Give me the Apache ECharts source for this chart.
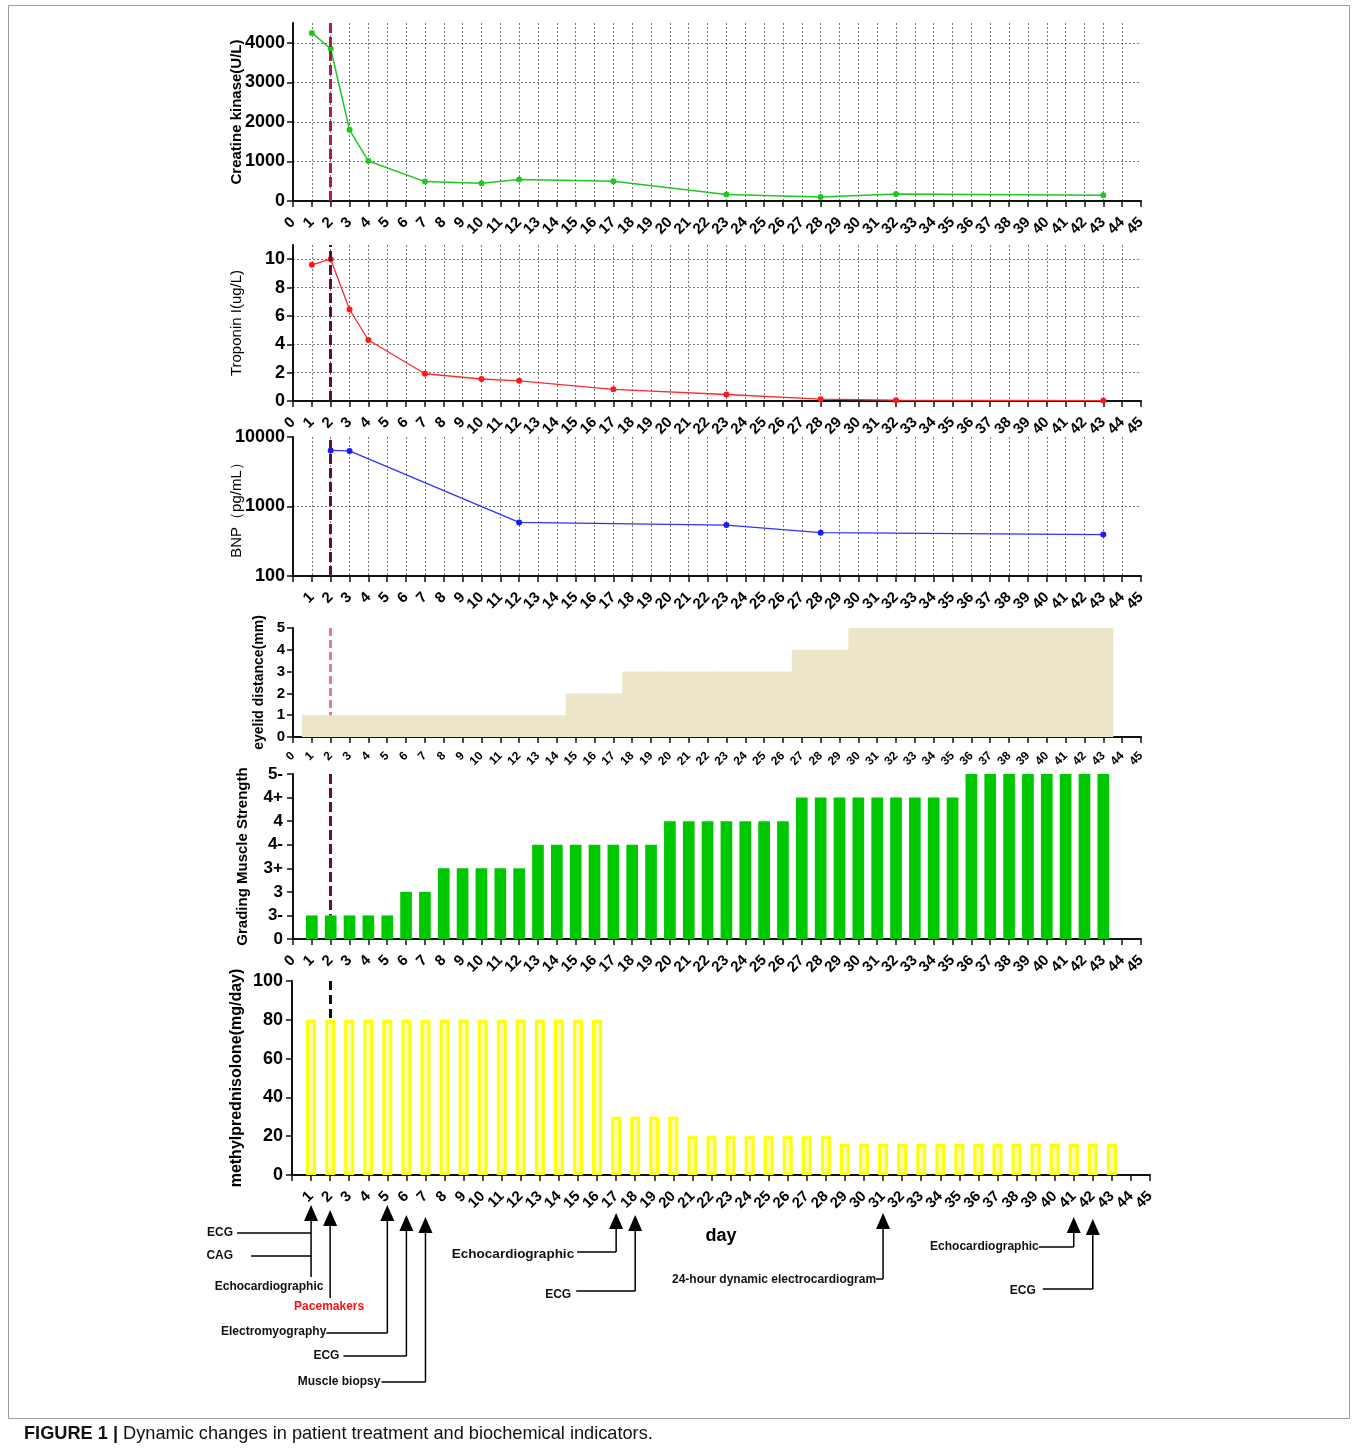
<!DOCTYPE html>
<html><head><meta charset="utf-8">
<script src="https://cdn.jsdelivr.net/npm/echarts@6/dist/echarts.min.js"></script>
<style>html,body{margin:0;padding:0;background:#fff}#c{width:1356px;height:1452px}</style>
</head><body><div id="c"></div>
<script>
// ---------------- DATA ----------------
const pacemakerDay = 2;
const ckDays   = [1, 2, 3, 4, 7, 10, 12, 17, 23, 28, 32, 43];
const ckValues = [4250, 3850, 1800, 1010, 490, 450, 545, 500, 165, 100, 180, 145];
const tnDays   = [1, 2, 3, 4, 7, 10, 12, 17, 23, 28, 32, 43];
const tnValues = [9.6, 10.0, 6.45, 4.3, 1.92, 1.55, 1.42, 0.82, 0.46, 0.13, 0.06, 0.03];
const bnpDays   = [2, 3, 12, 23, 28, 43];
const bnpValues = [6400, 6300, 590, 540, 420, 395];
const treatDays = [1,2,3,4,5,6,7,8,9,10,11,12,13,14,15,16,17,18,19,20,21,22,23,24,25,26,27,28,29,30,31,32,33,34,35,36,37,38,39,40,41,42,43];
const eyelidValues = [1,1,1,1,1,1,1,1,1,1,1,1,1,1, 2,2,2, 3,3,3,3,3,3,3,3,3, 4,4,4, 5,5,5,5,5,5,5,5,5,5,5,5,5,5];
const strengthLevels = ['0', '3-', '3', '3+', '4-', '4', '4+', '5-'];
const strengthGrades = ['3-','3-','3-','3-','3-', '3','3', '3+','3+','3+','3+','3+',
  '4-','4-','4-','4-','4-','4-','4-', '4','4','4','4','4','4','4',
  '4+','4+','4+','4+','4+','4+','4+','4+','4+', '5-','5-','5-','5-','5-','5-','5-','5-'];
const steroidDoses = [80,80,80,80,80,80,80,80,80,80,80,80,80,80,80,80, 30,30,30,30, 20,20,20,20,20,20,20,20,
  16,16,16,16,16,16,16,16,16,16,16,16,16,16,16];
const xTickLabels = ['0','1','2','3','4','5','6','7','8','9','10','11','12','13','14','15','16','17','18','19','20','21','22',
  '23','24','25','26','27','28','29','30','31','32','33','34','35','36','37','38','39','40','41','42','43','44','45'];
const ckTicks = [0, 1000, 2000, 3000, 4000];
const tnTicks = [0, 2, 4, 6, 8, 10];
const eventDays = [1, 2, 5, 6, 7, 17, 18, 31, 41, 42];
const eventLabels = [['ECG', 'CAG', 'Echocardiographic'], ['Pacemakers'], ['Electromyography'], ['ECG'],
  ['Muscle biopsy'], ['Echocardiographic'], ['ECG'], ['24-hour dynamic electrocardiogram'], ['Echocardiographic'], ['ECG']];
const yTitles = ['Creatine kinase(U/L)', 'Troponin I(ug/L)', 'BNP（pg/mL）', 'eyelid distance(mm)', 'Grading Muscle Strength', 'methylprednisolone(mg/day)'];
const xTitle = 'day';
const caption = 'Dynamic changes in patient treatment and biochemical indicators.';

// ---------------- PRESENTATION ----------------
const FONT = '"Liberation Sans", Arial, sans-serif';
const NARROW = '"Liberation Sans Narrow", "Liberation Sans", Arial, sans-serif';
const chart = echarts.init(document.getElementById('c'), null, {renderer: 'canvas', width: 1356, height: 1452});

const grids = [
  {left: 293, top: 23,  width: 848, height: 178},
  {left: 293, top: 245, width: 848, height: 156},
  {left: 293, top: 437, width: 848, height: 139},
  {left: 293, top: 628, width: 848, height: 109},
  {left: 293, top: 774, width: 848, height: 165},
  {left: 292, top: 981, width: 858, height: 194}
].map(g => Object.assign({containLabel: false, outerBoundsMode: 'none'}, g));

const dotted = {type: [2, 2], color: '#777', width: 1};
const plain = v => String(v);
const first = xTickLabels[0];
const last = xTickLabels[xTickLabels.length - 1];

// value axis (data scale, grid lines) + category axis (ticks & labels) on each grid
function xAxes(i, o) {
  o = o || {};
  const valueAxis = {
    gridIndex: i, type: 'value', position: 'bottom', min: Number(first), max: Number(last), interval: 1,
    axisLine: {show: false}, axisTick: {show: false}, axisLabel: {show: false},
    splitLine: {show: !!o.grid, showMinLine: false, showMaxLine: false, lineStyle: dotted}
  };
  const labelAxis = {
    gridIndex: i, type: 'category', position: 'bottom', data: xTickLabels, boundaryGap: false,
    axisLine: {show: true, onZero: false, lineStyle: {color: '#111', width: 2}},
    axisTick: {show: true, interval: 0, length: 6, lineStyle: {color: '#111', width: 1.5}},
    axisLabel: {show: true, interval: 0, rotate: 45, margin: o.margin || 19, fontFamily: FONT, fontWeight: 'bold',
      fontSize: o.size || 15, color: '#000', hideOverlap: false,
      formatter: v => (o.hideZero && v === first) ? '' : v},
    splitLine: {show: false}
  };
  if (o.name) Object.assign(labelAxis, {name: o.name, nameLocation: 'middle', nameGap: 52, nameMoveOverlap: false,
    nameTextStyle: {fontFamily: FONT, fontWeight: 'bold', fontSize: 18, color: '#000'}});
  return [valueAxis, labelAxis];
}
function yAx(i, o) {
  return Object.assign({
    gridIndex: i, type: 'value',
    name: yTitles[i], nameLocation: 'middle', nameRotate: 90, nameGap: o.gap, nameMoveOverlap: false,
    nameTextStyle: {fontFamily: FONT, fontWeight: o.nameWeight || 'bold', fontSize: o.nameSize || 15, color: '#000'},
    axisLine: {show: true, onZero: false, lineStyle: {color: '#111', width: 2}},
    axisTick: {show: true, length: 6, lineStyle: {color: '#111', width: 1.5}},
    axisLabel: {show: true, margin: o.margin || 8, fontFamily: o.font || FONT, fontWeight: 'bold', fontSize: o.size || 18,
      color: '#000', showMaxLabel: o.showMax !== false, formatter: o.formatter || plain},
    splitLine: {show: !!o.grid, showMinLine: false, showMaxLine: false, lineStyle: dotted}
  }, o.extra || {});
}

function fullDash(color, dash) {
  return {silent: true, symbol: ['none', 'none'], animation: false, label: {show: false},
    lineStyle: {color: color, width: 3, type: dash || [10, 4]}, data: [{xAxis: pacemakerDay}]};
}
function partDash(color, top, bottom, dash) {
  return {silent: true, symbol: ['none', 'none'], animation: false, label: {show: false},
    lineStyle: {color: color, width: 3, type: dash || [10, 4]},
    data: [[{coord: [pacemakerDay, top]}, {coord: [pacemakerDay, bottom]}]]};
}
const dayIdx = treatDays.indexOf(pacemakerDay);

const option = {
  animation: false,
  backgroundColor: '#fff',
  grid: grids,
  xAxis: [].concat(
    xAxes(0, {grid: true}),
    xAxes(1, {grid: true}),
    xAxes(2, {grid: true, hideZero: true}),
    xAxes(3, {size: 12, margin: 17}),
    xAxes(4, {}),
    xAxes(5, {hideZero: true, name: xTitle})
  ),
  yAxis: [
    yAx(0, {gap: 49, grid: true, showMax: false, extra: {min: ckTicks[0], max: 4500, interval: ckTicks[1] - ckTicks[0]}}),
    yAx(1, {gap: 49, grid: true, showMax: false, nameWeight: 'normal', extra: {min: tnTicks[0], max: 11, interval: tnTicks[1] - tnTicks[0]}}),
    yAx(2, {gap: 49, grid: true, nameWeight: 'normal', extra: {type: 'log', logBase: 10, min: 100, max: 10000}}),
    yAx(3, {gap: 27, size: 15, font: NARROW, nameSize: 14, extra: {min: 0, max: 5, interval: 1}}),
    yAx(4, {gap: 43, size: 17, font: NARROW, margin: 10, formatter: v => strengthLevels[v] || '', extra: {min: 0, max: strengthLevels.length - 1, interval: 1}}),
    yAx(5, {gap: 47, size: 18, font: NARROW, margin: 9, nameSize: 16, extra: {min: 0, max: 100, interval: 20}})
  ],
  series: [
    {type: 'line', xAxisIndex: 0, yAxisIndex: 0, data: ckDays.map((d, i) => [d, ckValues[i]]),
      symbol: 'circle', symbolSize: 6, lineStyle: {color: '#1ec81e', width: 1.5}, itemStyle: {color: '#1ec81e'},
      markLine: fullDash('#b5175b')},
    {type: 'line', xAxisIndex: 2, yAxisIndex: 1, data: tnDays.map((d, i) => [d, tnValues[i]]),
      symbol: 'circle', symbolSize: 6, lineStyle: {color: '#ff2a2a', width: 1.3}, itemStyle: {color: '#ff1a1a'},
      markLine: fullDash('#5e0b47')},
    {type: 'line', xAxisIndex: 4, yAxisIndex: 2, data: bnpDays.map((d, i) => [d, bnpValues[i]]),
      symbol: 'circle', symbolSize: 6, lineStyle: {color: '#3030ff', width: 1.3}, itemStyle: {color: '#1a1aff'},
      markLine: fullDash('#5e0b47')},
    {type: 'bar', xAxisIndex: 6, yAxisIndex: 3, data: treatDays.map((d, i) => [d, eyelidValues[i]]),
      barWidth: '106%', itemStyle: {color: '#ede5c9'},
      markLine: partDash('#e07b9b', 5, eyelidValues[dayIdx], [8, 4])},
    {type: 'bar', xAxisIndex: 8, yAxisIndex: 4, data: treatDays.map((d, i) => [d, strengthLevels.indexOf(strengthGrades[i])]),
      barWidth: '62%', itemStyle: {color: '#00c800'},
      markLine: partDash('#660a4c', strengthLevels.length - 1, strengthLevels.indexOf(strengthGrades[dayIdx]))},
    {type: 'bar', xAxisIndex: 10, yAxisIndex: 5, data: treatDays.map((d, i) => [d, steroidDoses[i]]),
      barWidth: '52%', itemStyle: {color: '#fdfdb8', borderColor: '#ffff00', borderWidth: 3},
      markLine: partDash('#111', 100, steroidDoses[dayIdx], [9, 5])}
  ]
};
chart.setOption(option);

// ---------------- ANNOTATIONS (positions derived from the bottom axis) ----------------
const eventLayout = [
  {tip: 30, end: 102, labels: [{dy: 58, right: -78, from: -74}, {dy: 81, right: -78, from: -60}, {dy: 112, center: -42}]},
  {tip: 35, end: 123, labels: [{dy: 132, center: -1, color: '#ff1010'}]},
  {tip: 30, end: 158, labels: [{dy: 157, right: -61, from: -61, ly: 158}]},
  {tip: 40, end: 181, labels: [{dy: 181, right: -67, from: -63}]},
  {tip: 42, end: 207, labels: [{dy: 207, right: -45, from: -44}]},
  {tip: 38, end: 77,  labels: [{dy: 79, right: -42, from: -39, ly: 77, size: 13.5}]},
  {tip: 40, end: 116, labels: [{dy: 120, right: -64, from: -59, ly: 116}]},
  {tip: 38, end: 104, labels: [{dy: 105, right: -7, from: -7, ly: 104}]},
  {tip: 42, end: 72,  labels: [{dy: 72, right: -35, from: -35}]},
  {tip: 44, end: 114, labels: [{dy: 116, right: -57, from: -50, ly: 114}]}
];
const base = chart.convertToPixel({yAxisIndex: 5}, 0);
const g = [];
eventDays.forEach((d, k) => {
  const ax = chart.convertToPixel({xAxisIndex: 10}, d);
  const L = eventLayout[k];
  const ty = base + L.tip;
  g.push({type: 'polygon', silent: true, shape: {points: [[ax, ty], [ax - 7, ty + 16], [ax + 7, ty + 16]]}, style: {fill: '#000'}});
  g.push({type: 'line', silent: true, shape: {x1: ax, y1: ty + 14, x2: ax, y2: base + L.end}, style: {stroke: '#000', lineWidth: 1.5}});
  L.labels.forEach((lb, j) => {
    const txt = eventLabels[k][j];
    const font = 'bold ' + (lb.size || 12) + 'px ' + FONT;
    if (lb.center !== undefined) {
      g.push({type: 'text', silent: true, style: {text: txt, x: ax + lb.center, y: base + lb.dy, align: 'center', verticalAlign: 'middle', font: font, fill: lb.color || '#111'}});
    } else {
      g.push({type: 'text', silent: true, style: {text: txt, x: ax + lb.right, y: base + lb.dy, align: 'right', verticalAlign: 'middle', font: font, fill: lb.color || '#111'}});
      const ly = base + (lb.ly !== undefined ? lb.ly : lb.dy);
      g.push({type: 'line', silent: true, shape: {x1: ax + lb.from, y1: ly, x2: ax, y2: ly}, style: {stroke: '#000', lineWidth: 1.5}});
    }
  });
});
g.push({type: 'rect', silent: true, shape: {x: 8.5, y: 5.5, width: 1341, height: 1413}, style: {fill: 'none', stroke: '#9a9a9a', lineWidth: 1}, z: -1});
g.push({type: 'text', silent: true, style: {
  text: '{b|FIGURE 1 |} ' + caption, x: 24, y: 1434, verticalAlign: 'middle',
  font: '18.2px ' + NARROW, fill: '#111',
  rich: {b: {font: 'bold 18.2px ' + NARROW, fill: '#111'}}}});
chart.setOption({graphic: {elements: g}});
</script>
</body></html>
